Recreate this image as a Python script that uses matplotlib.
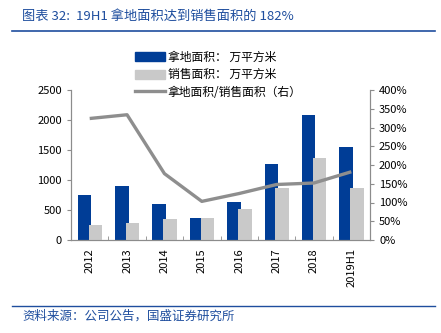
import matplotlib
matplotlib.use("Agg")
import matplotlib.pyplot as plt
import numpy as np
from matplotlib.lines import Line2D
from matplotlib.patches import Patch

plt.rcParams['font.family'] = ['Noto Sans CJK SC', 'DejaVu Sans']

years = ["2012", "2013", "2014", "2015", "2016", "2017", "2018", "2019H1"]
land_area = [755, 905, 595, 370, 635, 1270, 2080, 1550]
sales_area = [255, 290, 350, 360, 525, 865, 1365, 860]
ratio_pct = [324, 334, 177, 103, 124, 148, 152, 182]

blue = "#003D96"
light = "#C9C9C9"
line_gray = "#8E8E8E"
text_blue = "#1F4E9E"
axis_gray = "#8C8C8C"

fig = plt.figure(figsize=(4.41, 3.33), dpi=100)
ax = fig.add_axes([71/441, 93/333, 299/441, 150/333])
ax2 = ax.twinx()

x = np.arange(len(years))
w = 0.36
ax.bar(x - 0.14, land_area, w, color=blue, zorder=2)
ax.bar(x + 0.15, sales_area, w, color=light, zorder=3)
ax2.plot(x, ratio_pct, color=line_gray, lw=2.4, solid_capstyle='butt')

ax.set_xlim(-0.5, len(years) - 0.5)
ax.set_ylim(0, 2500)
ax.set_yticks(range(0, 2501, 500))
ax2.set_ylim(0, 400)
ax2.set_yticks(range(0, 401, 50))
ax2.set_yticklabels([f"{v}%" for v in range(0, 401, 50)])

ax.set_xticks(x)
ax.set_xticklabels(years, rotation=90)
ax.set_xticks(np.arange(-0.5, len(years)), minor=True)
ax.tick_params(axis='x', which='major', length=0, labelsize=8, pad=6)
ax.tick_params(axis='x', which='minor', direction='in', length=3, color=axis_gray)
ax.tick_params(axis='y', labelsize=8, length=3, color=axis_gray)
ax2.tick_params(axis='y', labelsize=8, length=3, color=axis_gray)

for a in (ax, ax2):
    a.spines["top"].set_visible(False)
    for side in ("left", "right", "bottom"):
        a.spines[side].set_color(axis_gray)
        a.spines[side].set_linewidth(0.8)

handles = [Patch(color=blue), Patch(color=light),
           Line2D([0], [0], color=line_gray, lw=2.4)]
labels = ["拿地面积： 万平方米", "销售面积： 万平方米", "拿地面积/销售面积（右）"]
fig.legend(handles, labels, loc="upper left", bbox_to_anchor=(130/441, 1 - 46/333),
           frameon=False, fontsize=8.5, handlelength=2.6, handleheight=0.8,
           handletextpad=0.2, labelspacing=0.38, borderaxespad=0)

fig.text(22/441, 1 - 16/333, "图表 32:  19H1 拿地面积达到销售面积的 182%",
         color=text_blue, fontsize=9.5, style='italic', va='center')
fig.add_artist(Line2D([12/441, 435/441], [1 - 30.5/333, 1 - 30.5/333],
                      color=text_blue, lw=1.2))
fig.add_artist(Line2D([12/441, 435/441], [1 - 306/333, 1 - 306/333],
                      color=text_blue, lw=1.0))
fig.text(22/441, 1 - 316/333, "资料来源：公司公告，国盛证券研究所",
         color=text_blue, fontsize=9, style='italic', va='center')

fig.savefig("out.png", dpi=100)
